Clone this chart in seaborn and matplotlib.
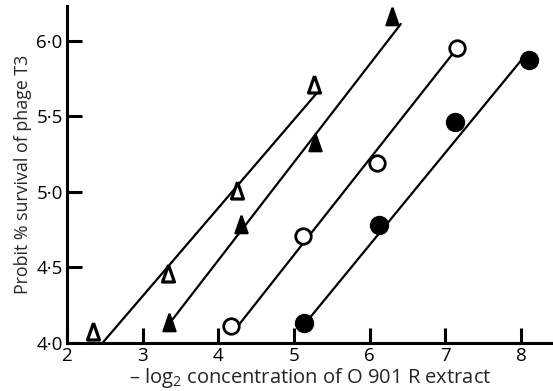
import matplotlib
matplotlib.use("Agg")
import matplotlib.pyplot as plt
import seaborn as sns
from matplotlib.ticker import FixedLocator, FixedFormatter

# ---- data ----
open_tri_x = [2.34, 3.33, 4.25, 5.26]
open_tri_y = [4.08, 4.46, 5.01, 5.71]
fill_tri_x = [3.35, 4.30, 5.28, 6.29]
fill_tri_y = [4.14, 4.79, 5.33, 6.16]
open_circ_x = [4.17, 5.12, 6.10, 7.15]
open_circ_y = [4.11, 4.71, 5.19, 5.95]
fill_circ_x = [5.13, 6.12, 7.13, 8.10]
fill_circ_y = [4.13, 4.78, 5.46, 5.87]

# fitted line end points
line_open_tri_x = [2.47, 5.33]
line_open_tri_y = [4.00, 5.67]
line_fill_tri_x = [3.31, 6.41]
line_fill_tri_y = [4.10, 6.11]
line_open_circ_x = [4.24, 7.09]
line_open_circ_y = [4.10, 5.91]
line_fill_circ_x = [5.10, 8.00]
line_fill_circ_y = [4.10, 5.87]

x_ticks = [2, 3, 4, 5, 6, 7, 8]
x_tick_labels = ["2", "3", "4", "5", "6", "7", "8"]
y_ticks = [4.0, 4.5, 5.0, 5.5, 6.0]
y_tick_labels = ["4·0", "4·5", "5·0", "5·5", "6·0"]

x_label = "– log$_2$ concentration of O 901 R extract"
y_label = "Probit % survival of phage T3"

# ---- drawing ----
sns.set_style("ticks")
plt.rcParams['font.family'] = ['Open Sans', 'DejaVu Sans']
plt.rcParams['mathtext.fontset'] = 'custom'
plt.rcParams['mathtext.rm'] = 'Open Sans'

fig = plt.figure(figsize=(5.53, 3.91), dpi=100)
ax = fig.add_axes([0.121, 0.123, 0.879, 0.862])

lines = [
    (line_open_tri_x, line_open_tri_y),
    (line_fill_tri_x, line_fill_tri_y),
    (line_open_circ_x, line_open_circ_y),
    (line_fill_circ_x, line_fill_circ_y),
]
for lx, ly in lines:
    sns.lineplot(x=lx, y=ly, ax=ax, color="black", linewidth=1.6,
                 estimator=None, sort=False, zorder=2)

tall_tri = [(0.0, 1.0), (-0.7, -1.0), (0.7, -1.0), (0.0, 1.0)]
pts = [
    (open_tri_x, open_tri_y, tall_tri, "white", 150, 2.3),
    (fill_tri_x, fill_tri_y, tall_tri, "black", 160, 1.5),
    (open_circ_x, open_circ_y, "o", "white", 125, 2.0),
    (fill_circ_x, fill_circ_y, "o", "black", 155, 1.5),
]
for px, py, m, fc, s, lw in pts:
    sns.scatterplot(x=px, y=py, ax=ax, marker=m, s=s, facecolor=fc,
                    edgecolor="black", linewidth=lw, zorder=3)

ax.set_xlim(2.0, 8.42)
ax.set_ylim(4.0, 6.23)
ax.xaxis.set_major_locator(FixedLocator(x_ticks))
ax.xaxis.set_major_formatter(FixedFormatter(x_tick_labels))
ax.yaxis.set_major_locator(FixedLocator(y_ticks))
ax.yaxis.set_major_formatter(FixedFormatter(y_tick_labels))

sns.despine(ax=ax)
for sp in ("left", "bottom"):
    ax.spines[sp].set_linewidth(2.2)
    ax.spines[sp].set_color("black")
ax.tick_params(direction="in", length=11, width=2.2, colors="black",
               labelsize=13.5, pad=3)
for lab in ax.get_xticklabels() + ax.get_yticklabels():
    lab.set_fontweight("medium")
ax.set_xlabel(x_label, fontsize=14.5, labelpad=1, fontweight="medium")
ax.set_ylabel(y_label, fontsize=12.8, labelpad=3, fontweight="medium")
ax.grid(False)

fig.savefig("out.png", dpi=100)
